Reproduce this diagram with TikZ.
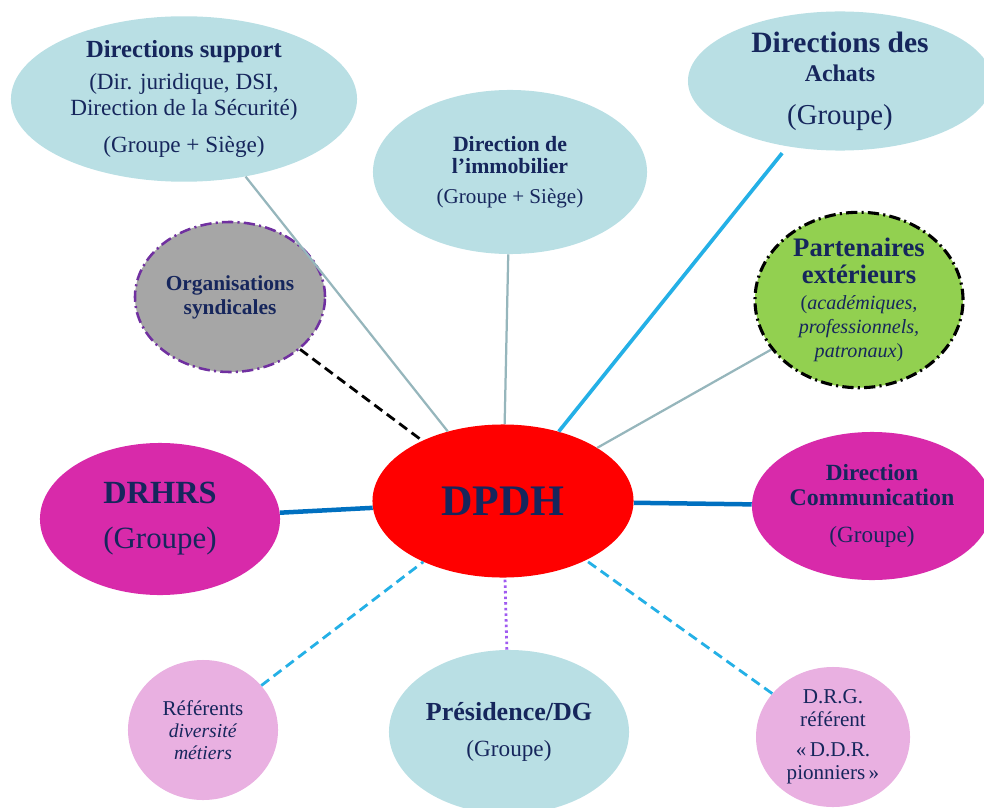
\documentclass[tikz,border=0pt]{standalone}
\usepackage{fontspec}
\setmainfont{Liberation Serif}
\usepackage{xcolor}
\usetikzlibrary{shapes.geometric}
\definecolor{navytxt}{RGB}{22,38,92}
\definecolor{bleupale}{RGB}{185,223,228}
\definecolor{magenta}{RGB}{216,42,170}
\definecolor{rosepale}{RGB}{233,176,225}
\definecolor{vertclair}{RGB}{146,208,80}
\definecolor{grisfond}{RGB}{166,166,166}
\definecolor{violet}{RGB}{112,48,160}
\definecolor{gristeal}{RGB}{150,182,188}
\definecolor{cielbleu}{RGB}{36,176,230}
\definecolor{bleufonce}{RGB}{0,112,192}
\definecolor{lilas}{RGB}{160,90,240}
\newcommand\fsz[2]{\fontsize{#1}{#2}\selectfont}
\tikzset{
  bulle/.style={
    ellipse,
    inner sep=0pt,
    align=center,
    text=navytxt
  },
  pale/.style={bulle, fill=bleupale},
  vive/.style={bulle, fill=magenta},
  rose/.style={bulle, fill=rosepale},
  lien/.style={gristeal, line width=1.6pt},
  lienfort/.style={bleufonce, line width=3.2pt},
  tirets/.style={cielbleu, line width=2pt, dash pattern=on 7pt off 4pt}
}
\begin{document}
\begin{tikzpicture}[x=0.025cm, y=-0.025cm]
  \useasboundingbox (0,0) rectangle (984,807);
  % noeuds
  \node[pale, font=\fsz{16.5}{18.5}, minimum width=8.65cm, minimum height=3.55cm] (support) at (184,99)
    {\fsz{17.5}{20}\bfseries Directions support\\[4pt]
     (Dir. juridique, DSI,\\
     Direction de la Sécurité)\\[8pt]
     (Groupe + Siège)};
  \node[pale, font=\fsz{15}{15.6}, minimum width=6.85cm, minimum height=4.1cm] (immo) at (510,172)
    {\bfseries\fsz{15.5}{16}Direction de\\
     \bfseries\fsz{15.5}{16}l’immobilier\\[6pt]
     (Groupe + Siège)};
  \node[pale, font=\fsz{20.5}{21}, minimum width=7.6cm, minimum height=3.45cm] (achats) at (840,81)
    {\bfseries\fsz{21}{22}Directions des\\
     \bfseries\fsz{17}{18}Achats\\[9pt]
     (Groupe)};
  \node[bulle, font=\fsz{14.3}{17}, fill=vertclair, draw=black, line width=2.2pt,
        dash pattern=on 8pt off 3pt on 1.5pt off 3pt,
        minimum width=5.2cm, minimum height=3.9cm] (partenaires) at (859,300)
    {\bfseries\fsz{19}{20}Partenaires\\[2pt]
     \bfseries\fsz{19}{20}extérieurs\\[2pt]
     (\textit{académiques,}\\
     \textit{professionnels,}\\
     \textit{patronaux})};
  \node[bulle, font=\fsz{15.2}{17}\bfseries, fill=grisfond, draw=violet, line width=1.8pt,
        dash pattern=on 8pt off 3pt on 1.5pt off 3pt,
        minimum width=4.75cm, minimum height=3.75cm] (syndicats) at (230,297)
    {Organisations\\
     syndicales};
  \node[bulle, font=\fsz{31}{32}\bfseries, fill=red, minimum width=6.525cm, minimum height=3.825cm] (dpdh) at (503,501)
    {DPDH};
  \node[vive, font=\fsz{22}{26}, minimum width=6cm, minimum height=3.8cm] (drhrs) at (160,519)
    {\bfseries\fsz{23}{24}DRHRS\\[6pt]
     (Groupe)};
  \node[vive, font=\fsz{16.5}{17.8}, minimum width=6cm, minimum height=3.7cm] (comm) at (872,506)
    {\bfseries Direction\\
     \bfseries\fsz{17}{18}Communication\\[8.5pt]
     (Groupe)};
  \node[pale, font=\fsz{16.5}{18}, minimum width=6cm, minimum height=4.1cm] (presidence) at (509,732)
    {\bfseries\fsz{18.5}{20}Présidence/DG\\[7pt]
     (Groupe)};
  \node[rose, font=\fsz{14}{15.6}, minimum width=3.75cm, minimum height=3.5cm] (referents) at (203,730)
    {\fsz{15}{16}Référents\\
     \textit{diversité}\\
     \textit{métiers}};
  \node[rose, font=\fsz{15}{16.4}, minimum width=3.85cm, minimum height=3.5cm] (drg) at (833,737)
    {D.R.G.\\
     référent\\[5pt]
     «\,D.D.R.\\
     pionniers\,»};
  % liens
  \draw[lien] (support) -- (dpdh);
  \draw[lien] (immo) -- (dpdh);
  \draw[cielbleu, line width=2.6pt, shorten <=6pt] (achats) -- (dpdh);
  \draw[lien] (partenaires) -- (dpdh);
  \draw[black, line width=2pt, dash pattern=on 7pt off 4pt] (syndicats) -- (dpdh);
  \draw[lienfort] (drhrs) -- (dpdh);
  \draw[lienfort] (comm) -- (dpdh);
  \draw[tirets] (referents) -- (dpdh);
  \draw[tirets] (drg) -- (dpdh);
  \draw[lilas, line width=2pt, dash pattern=on 1.8pt off 2.2pt] (presidence) -- (dpdh);
\end{tikzpicture}
\end{document}
